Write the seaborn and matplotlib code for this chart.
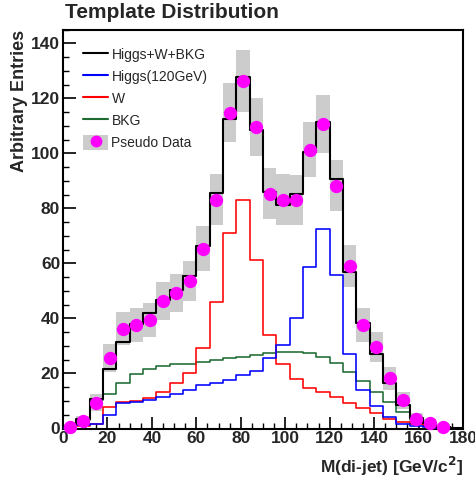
import numpy as np
import pandas as pd
import matplotlib
matplotlib.use("Agg")
import matplotlib.pyplot as plt
from matplotlib.lines import Line2D
from matplotlib.patches import Patch
import seaborn as sns

# ---- data (30 bins of 6 GeV from 0 to 180) ----
bin_edges = list(range(0, 181, 6))
total = [0.5, 3.4, 10.6, 21.8, 31.5, 38.1, 41.8, 46.6, 50.5, 55.3, 66.2, 85.5, 112.5, 127.9, 108.3,
         86.1, 81.1, 85.3, 100.4, 111.3, 90.5, 56.8, 38.5, 26.9, 16.4, 8.5, 3.7, 2.0, 0.6, 0.2]
higgs = [0.1, 1.2, 1.5, 4.9, 9.1, 9.7, 10.3, 11.5, 12.5, 14.0, 15.8, 16.5, 17.6, 19.6, 21.0,
         25.5, 30.3, 40.0, 58.7, 72.6, 55.7, 26.9, 14.0, 8.0, 4.0, 1.8, 1.0, 0.5, 0.2, 0.1]
wboson = [0.0, 0.8, 1.5, 7.9, 9.5, 10.0, 11.0, 13.4, 16.4, 20.0, 29.1, 46.0, 71.0, 83.2, 61.1,
          33.9, 23.6, 18.0, 14.6, 13.1, 11.5, 9.4, 7.3, 5.5, 3.4, 2.2, 1.5, 0.8, 0.4, 0.2]
bkg = [0.3, 3.2, 10.3, 12.5, 16.6, 19.8, 21.7, 22.8, 23.4, 23.6, 24.1, 24.8, 25.5, 26.0, 26.7,
       27.3, 27.7, 27.9, 27.3, 26.0, 23.9, 20.6, 17.3, 13.4, 9.5, 5.9, 3.1, 1.6, 0.6, 0.2]
pseudo = [0.7, 2.8, 9.4, 25.7, 36.3, 37.5, 39.4, 46.4, 49.3, 53.6, 65.4, 83.2, 114.7, 126.4, 109.5,
          85.3, 83.2, 82.9, 101.3, 110.7, 88.3, 59.1, 37.6, 29.6, 18.2, 10.2, 3.6, 1.9, 0.7, 0.0]

labels = ["Higgs+W+BKG", "Higgs(120GeV)", "W", "BKG", "Pseudo Data"]
colors = ["#000000", "#0000ff", "#ff0000", "#1e6b32"]

edges = np.array(bin_edges, dtype=float)
centers = 0.5 * (edges[:-1] + edges[1:])
width = edges[1] - edges[0]

df = pd.DataFrame({"m": centers, "total": total, "higgs": higgs, "w": wboson,
                   "bkg": bkg, "data": pseudo})
df["err"] = np.sqrt(df["data"])

sns.set_theme(style="white")
plt.rcParams["font.family"] = ["Liberation Sans", "DejaVu Sans"]

fig = plt.figure(figsize=(4.75, 4.79), dpi=100)
ax = fig.add_axes([63 / 475, 1 - 428.5 / 479, 400 / 475, 399 / 479])

# error boxes of the pseudo data
nz = df[df["data"] > 0]
ax.bar(nz["m"], 2 * nz["err"], bottom=nz["data"] - nz["err"], width=width,
       color="#cccccc", linewidth=0, zorder=1)

# histograms
for col, c, lw, z in [("bkg", colors[3], 1.15, 2), ("w", colors[2], 1.15, 3),
                      ("higgs", colors[1], 1.15, 4), ("total", colors[0], 1.5, 5)]:
    sns.histplot(data=df, x="m", weights=col, bins=bin_edges, element="step", fill=False,
                 color=c, linewidth=lw, ax=ax, zorder=z)

# data markers
sns.scatterplot(data=nz, x="m", y="data", color="#ff00ff", s=92, linewidth=0,
                ax=ax, zorder=6, clip_on=False)

ax.set_xlim(0, 180)
ax.set_ylim(0, 145)
ax.set_xticks(np.arange(0, 181, 20))
ax.set_yticks(np.arange(0, 141, 20))
ax.set_xticks(np.arange(0, 181, 5), minor=True)
ax.set_yticks(np.arange(0, 146, 5), minor=True)
ax.tick_params(axis="both", which="both", direction="in", top=False, right=False,
               bottom=True, left=True, color="black")
ax.tick_params(axis="both", which="major", length=9, width=1.2)
ax.tick_params(axis="both", which="minor", length=4.5, width=1.0)
ax.tick_params(axis="x", which="major", pad=2)
ax.tick_params(axis="y", which="major", pad=2)
for lab in ax.get_xticklabels() + ax.get_yticklabels():
    lab.set_fontweight("bold")
    lab.set_fontsize(12.5)
for sp in ax.spines.values():
    sp.set_color("black")
    sp.set_linewidth(1.5)

ax.set_xlabel("M(di-jet) [GeV/c$^\\mathbf{2}$]", fontsize=12.5, fontweight="bold",
              loc="right", labelpad=6.5)
ax.set_ylabel("Arbitrary Entries", fontsize=13, fontweight="bold", loc="top", labelpad=2.5)
fig.text(65 / 475, 1 - 18.5 / 479, "Template Distribution", fontsize=15,
         fontweight="bold", va="baseline", ha="left")

handles = [Line2D([], [], color=colors[0], lw=1.5),
           Line2D([], [], color=colors[1], lw=1.5),
           Line2D([], [], color=colors[2], lw=1.5),
           Line2D([], [], color=colors[3], lw=1.5),
           (Patch(facecolor="#cccccc", edgecolor="none"),
            Line2D([], [], color="#ff00ff", marker="o", ls="none", markersize=7.5))]
leg = ax.legend(handles, labels, loc="upper left", bbox_to_anchor=(0.05, 0.957),
                frameon=False, fontsize=10, handlelength=1.8, handleheight=1.35,
                handletextpad=0.25, labelspacing=0.46, borderaxespad=0.0, borderpad=0.0)

fig.savefig("out.png", dpi=100)
